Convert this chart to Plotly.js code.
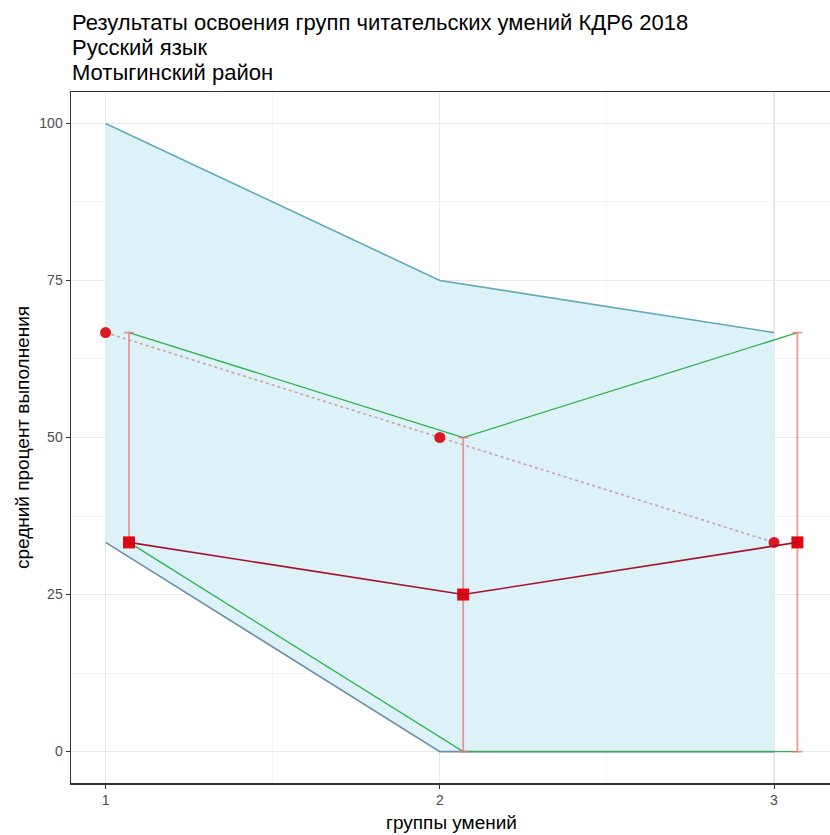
<!DOCTYPE html>
<html>
<head>
<meta charset="utf-8">
<script src="https://cdn.plot.ly/plotly-3.0.1.min.js"></script>
<style>
html,body{margin:0;padding:0;overflow:hidden;background:#fff;}
#chart{width:834px;height:835px;}
</style>
</head>
<body>
<div id="chart"></div>
<script>
// ---- data ----
const titleLines = ['Результаты освоения групп читательских умений КДР6 2018', 'Русский язык', 'Мотыгинский район'];
const groups = [1, 2, 3];
const tickLabels = ["1", "2", "3"];
const rangeMax = [100, 75, 66.7];      // upper bound of ribbon
const rangeMin = [33.3, 0, 0];         // lower bound of ribbon
const schoolMax = [66.7, 50, 66.7];    // green upper / error bar top
const schoolMin = [33.3, 0, 0];        // green lower / error bar bottom
const schoolMean = [33.3, 25, 33.3];   // dark red squares
const regionMean = [66.7, 50, 33.3];   // red dots (dotted line)
const yTicks = [0, 25, 50, 75, 100];

const dodge = 0.07;
const gx = groups.map(g => g + dodge);

const traces = [
  {x: groups, y: rangeMin, mode: 'lines', line: {color: '#6f8ea3', width: 1.6}, hoverinfo: 'skip', showlegend: false},
  {x: groups, y: rangeMax, mode: 'lines', fill: 'tonexty', fillcolor: '#dcf2f8',
   line: {color: '#62a9ba', width: 1.6}, hoverinfo: 'skip', showlegend: false},
  {x: gx, y: schoolMax, mode: 'lines', line: {color: '#2bb24c', width: 1.3}, showlegend: false},
  {x: gx, y: schoolMin, mode: 'lines', line: {color: '#2bb24c', width: 1.3}, showlegend: false},
  {x: gx, y: schoolMean, mode: 'markers', marker: {size: 0.1, color: 'rgba(0,0,0,0)'},
   error_y: {type: 'data', symmetric: false,
     array: schoolMax.map((v, i) => v - schoolMean[i]),
     arrayminus: schoolMean.map((v, i) => v - schoolMin[i]),
     color: 'rgba(226,120,120,0.75)', thickness: 1.8, width: 5},
   showlegend: false},
  {x: groups, y: regionMean, mode: 'lines', line: {color: '#cfa0a0', width: 1.6, dash: 'dot'}, showlegend: false},
  {x: groups, y: regionMean, mode: 'markers', marker: {symbol: 'circle', size: 11, color: '#d91a22'}, showlegend: false},
  {x: gx, y: schoolMean, mode: 'markers', marker: {symbol: 'square', size: 12, color: '#e3050f'}, showlegend: false},
  {x: gx, y: schoolMean, mode: 'lines', line: {color: '#a4132c', width: 1.6}, showlegend: false}
];

// title lines as annotations (pixel centers 22, 47, 72 from top; plot area 92..783)
const titleY = [22, 47, 72];
const annotations = titleLines.map((t, i) => ({
  text: t, xref: 'paper', yref: 'paper', x: -1/761, y: (783 - titleY[i]) / 691,
  xanchor: 'left', yanchor: 'middle', showarrow: false,
  font: {size: 22, color: '#000', family: 'Liberation Sans, Arial, sans-serif'}
}));

const gridColor = '#e8e8e8';
const layout = {
  width: 834, height: 835,
  margin: {l: 71, r: 2, t: 92, b: 52},
  paper_bgcolor: '#fff', plot_bgcolor: '#fff',
  font: {family: 'Liberation Sans, Arial, sans-serif', color: '#000'},
  annotations: annotations,
  xaxis: {
    range: [0.8965, 3.1735], tickmode: 'array', tickvals: groups, ticktext: tickLabels,
    showgrid: true, gridcolor: gridColor, gridwidth: 1.2,
    minor: {dtick: 0.5, tick0: 0.5, showgrid: true, gridcolor: '#f1f1f1', gridwidth: 0.8, ticks: ''},
    ticks: 'outside', ticklen: 4, tickcolor: '#333', tickwidth: 1,
    tickfont: {size: 14, color: '#4d4d4d'},
    showline: true, linecolor: '#333', linewidth: 1.5, mirror: true, zeroline: false,
    title: {text: 'группы умений', font: {size: 19, color: '#000'}, standoff: 8}
  },
  yaxis: {
    range: [-5, 105], tickmode: 'array', tickvals: yTicks, ticktext: yTicks.map(String),
    showgrid: true, gridcolor: gridColor, gridwidth: 1.2,
    minor: {dtick: 12.5, tick0: 12.5, showgrid: true, gridcolor: '#f1f1f1', gridwidth: 0.8, ticks: ''},
    ticks: 'outside', ticklen: 4, tickcolor: '#333', tickwidth: 1,
    tickfont: {size: 14, color: '#4d4d4d'},
    showline: true, linecolor: '#333', linewidth: 1.5, mirror: true, zeroline: false,
    title: {text: 'средний процент выполнения', font: {size: 19, color: '#000'}, standoff: 4}
  }
};

Plotly.newPlot('chart', traces, layout, {displayModeBar: false, staticPlot: true});
</script>
</body>
</html>
